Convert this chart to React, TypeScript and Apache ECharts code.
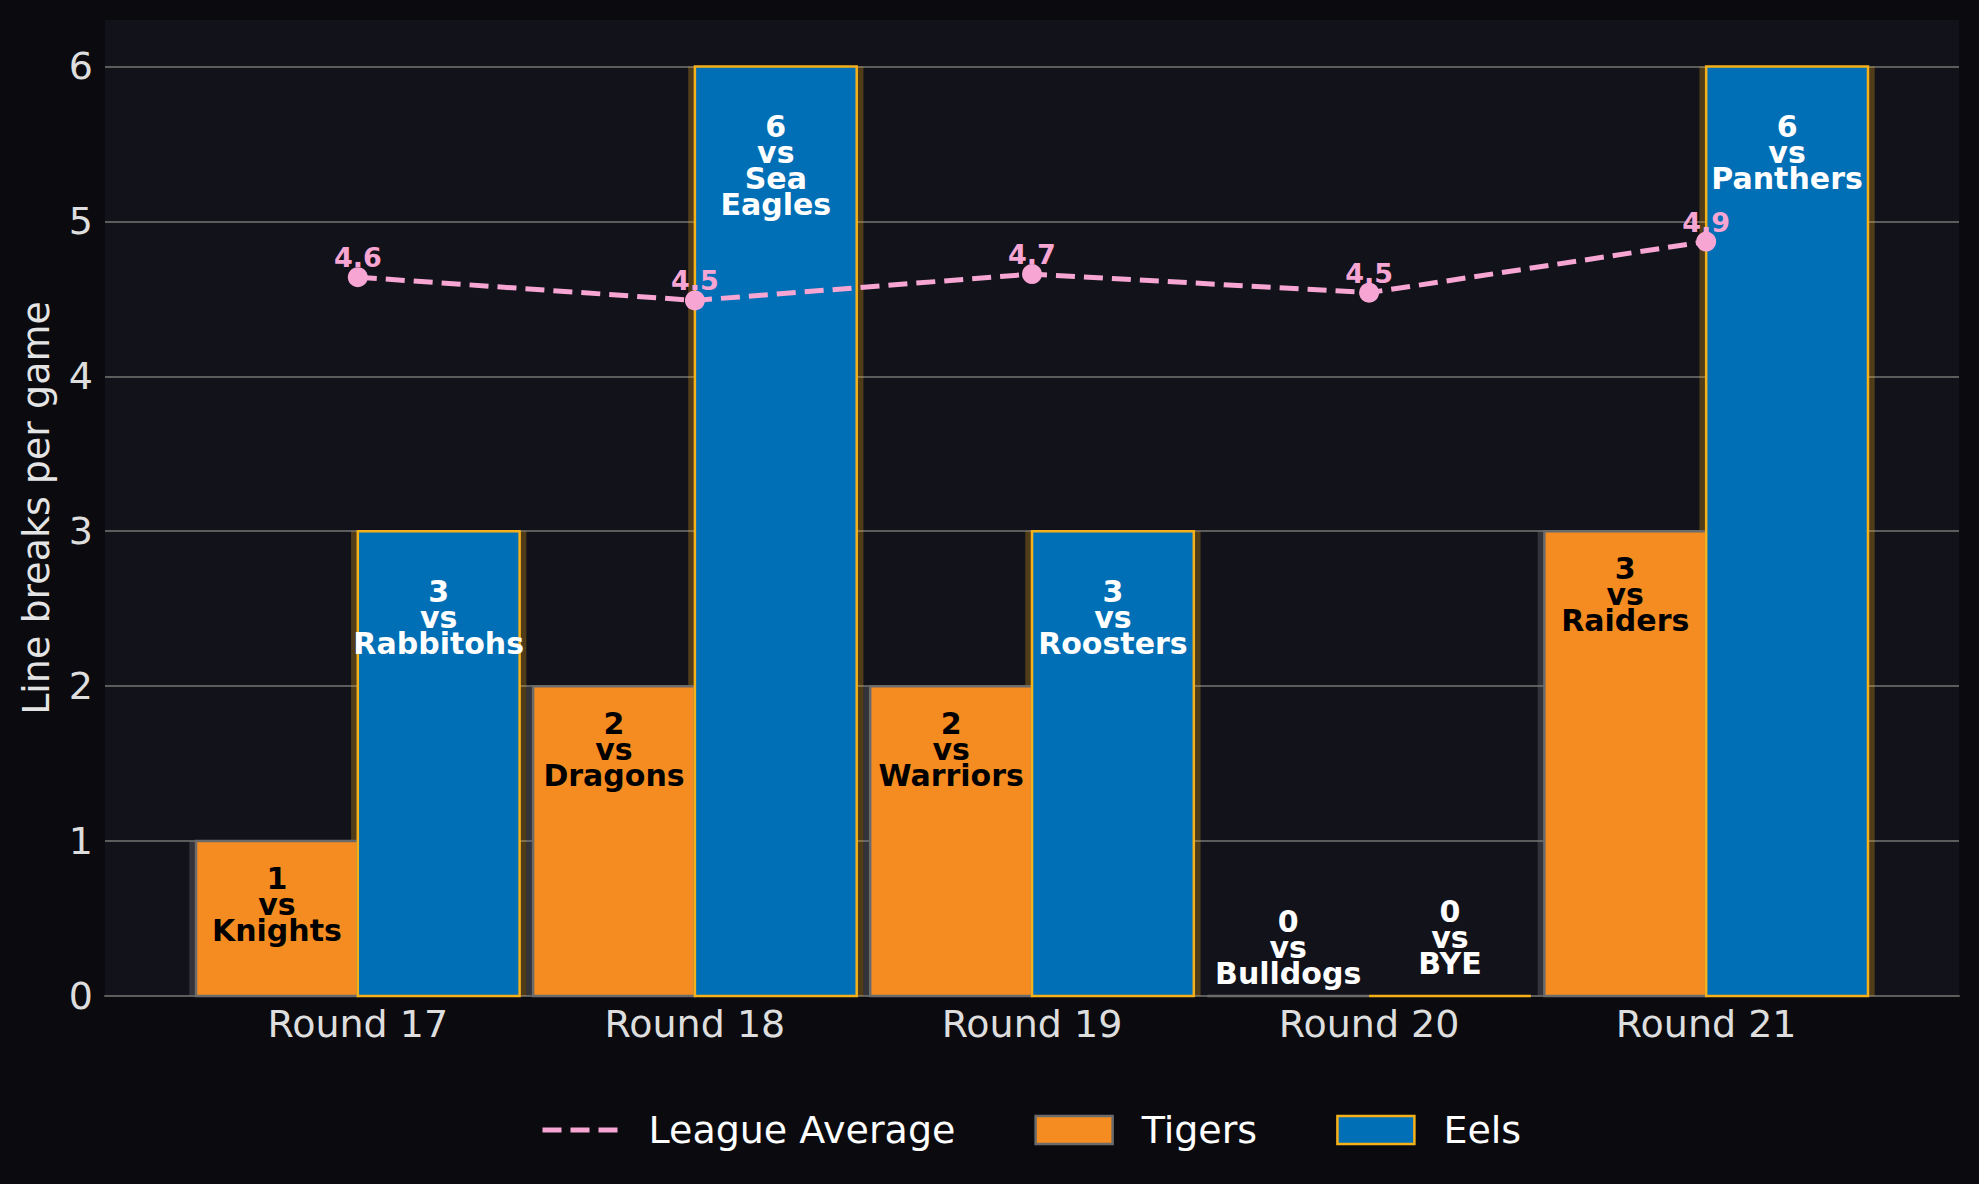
import React, { useEffect, useRef } from 'react';
import * as echarts from 'echarts';

const ROUNDS = ['Round 17', 'Round 18', 'Round 19', 'Round 20', 'Round 21'];
const TIGERS = [1, 2, 2, 0, 3];
const EELS = [3, 6, 3, 0, 6];
const TIGERS_OPP = ['Knights', 'Dragons', 'Warriors', 'Bulldogs', 'Raiders'];
const EELS_OPP = ['Rabbitohs', 'Sea Eagles', 'Roosters', 'BYE', 'Panthers'];
const LEAGUE_AVG = [4.64, 4.49, 4.66, 4.54, 4.87];
const Y_TICKS = [0, 1, 2, 3, 4, 5, 6];

const FONT = 'DejaVu Sans';
const BAR_W = 0.48;
const SHADOW_W = 0.52;
const LINE_H = 26;

const TIGER_FILL = '#f58c21';
const TIGER_EDGE = '#6b6b6b';
const EEL_FILL = '#006fb5';
const EEL_EDGE = '#f5b01a';
const PINK = '#f7a6d4';
const DASH = [19, 9];

function labelText(v: number, opp: string) {
  return `${v}\nvs\n${opp.split(' ').join('\n')}`;
}

function barRenderer(
  values: number[],
  opps: string[],
  side: number,
  fill: string,
  edge: string,
  textColor: string,
  topOffset: number,
  zeroOffset: number
) {
  return (params: any, api: any) => {
    const i = params.dataIndex;
    const x = api.value(0) as number;
    const v = values[i];
    const c = x + (side * BAR_W) / 2;
    const [left, top] = api.coord([c - BAR_W / 2, v]);
    const [right, bottom] = api.coord([c + BAR_W / 2, 0]);
    const firstLine = v > 0 ? top + topOffset : bottom - zeroOffset;
    return {
      type: 'group',
      children: [
        {
          type: 'rect',
          shape: { x: left, y: top, width: right - left, height: bottom - top },
          style: { fill, stroke: edge, lineWidth: 2.5 },
        },
        {
          type: 'text',
          z2: 20,
          style: {
            text: labelText(v, opps[i]),
            x: (left + right) / 2,
            y: firstLine - LINE_H / 2,
            align: 'center',
            verticalAlign: 'top',
            fill: v > 0 ? textColor : '#ffffff',
            fontSize: 30,
            fontWeight: 'bold',
            fontFamily: FONT,
            lineHeight: LINE_H,
          },
        },
      ],
    };
  };
}

function shadowRenderer(values: number[], side: number, color: string) {
  return (params: any, api: any) => {
    const i = params.dataIndex;
    const x = api.value(0) as number;
    const v = values[i];
    const c = x + (side * BAR_W) / 2;
    const [left, top] = api.coord([c - SHADOW_W / 2, v]);
    const [right, bottom] = api.coord([c + SHADOW_W / 2, 0]);
    return {
      type: 'rect',
      shape: { x: left, y: top, width: right - left, height: bottom - top },
      style: { fill: color },
    };
  };
}

export default function App() {
  const chartRef = useRef<HTMLDivElement>(null);

  useEffect(() => {
    if (!chartRef.current) return;
    const chart = echarts.init(chartRef.current, null, { renderer: 'svg' });

    const tigerData = TIGERS.map((v, i) => [i, v]);
    const eelData = EELS.map((v, i) => [i, v]);

    chart.setOption({
      animation: false,
      backgroundColor: '#0b0b0f',
      textStyle: { fontFamily: FONT },
      grid: {
        left: 105,
        right: 20,
        top: 20,
        bottom: 188,
        show: true,
        backgroundColor: '#12121a',
        borderWidth: 0,
      },
      legend: {
        left: 535,
        top: 1106,
        itemWidth: 77,
        itemHeight: 28,
        itemGap: 79,
        textStyle: { color: '#ffffff', fontSize: 38, fontFamily: FONT, padding: [0, 0, 0, 24] },
        data: [
          {
            name: 'League Average',
            itemStyle: { opacity: 0 },
            lineStyle: { color: PINK, width: 5, type: DASH },
          },
          {
            name: 'Tigers',
            icon: 'rect',
            itemStyle: { color: TIGER_FILL, borderColor: TIGER_EDGE, borderWidth: 2.5 },
          },
          {
            name: 'Eels',
            icon: 'rect',
            itemStyle: { color: EEL_FILL, borderColor: EEL_EDGE, borderWidth: 2.5 },
          },
        ],
      },
      xAxis: {
        type: 'value',
        min: -0.75,
        max: 4.75,
        interval: 0.25,
        axisLine: { show: true, lineStyle: { color: '#5c5c5c', width: 2 } },
        axisTick: { show: false },
        splitLine: { show: false },
        axisLabel: {
          color: '#dedede',
          fontSize: 38,
          fontFamily: FONT,
          margin: 9,
          formatter: (v: number) => {
            const k = Math.round(v);
            return Math.abs(v - k) < 1e-6 && ROUNDS[k] ? ROUNDS[k] : '';
          },
        },
      },
      yAxis: {
        type: 'value',
        min: 0,
        max: 6.3,
        interval: 1,
        name: 'Line breaks per game',
        nameLocation: 'middle',
        nameGap: 50,
        nameTextStyle: { color: '#e4e4e4', fontSize: 38, fontFamily: FONT },
        axisLine: { show: false },
        axisTick: { show: false },
        splitLine: { show: true, showMaxLine: false, lineStyle: { color: '#5c5c5c', width: 2 } },
        axisLabel: {
          color: '#dedede',
          fontSize: 38,
          fontFamily: FONT,
          margin: 12,
          showMaxLabel: false,
          formatter: (v: number) => (Y_TICKS.includes(v) ? String(v) : ''),
        },
      },
      series: [
        {
          name: 'tigers-shadow',
          type: 'custom',
          z: 1,
          silent: true,
          data: tigerData,
          encode: { x: 0, y: 1 },
          renderItem: shadowRenderer(TIGERS, -1, 'rgba(120,120,130,0.32)'),
        },
        {
          name: 'eels-shadow',
          type: 'custom',
          z: 1,
          silent: true,
          data: eelData,
          encode: { x: 0, y: 1 },
          renderItem: shadowRenderer(EELS, 1, 'rgba(242,170,20,0.28)'),
        },
        {
          name: 'Tigers',
          type: 'custom',
          z: 2,
          data: tigerData,
          encode: { x: 0, y: 1 },
          itemStyle: { color: TIGER_FILL, borderColor: TIGER_EDGE, borderWidth: 2.5 },
          renderItem: barRenderer(TIGERS, TIGERS_OPP, -1, TIGER_FILL, TIGER_EDGE, '#000000', 37, 75),
        },
        {
          name: 'Eels',
          type: 'custom',
          z: 2,
          data: eelData,
          encode: { x: 0, y: 1 },
          itemStyle: { color: EEL_FILL, borderColor: EEL_EDGE, borderWidth: 2.5 },
          renderItem: barRenderer(EELS, EELS_OPP, 1, EEL_FILL, EEL_EDGE, '#ffffff', 60, 85),
        },
        {
          name: 'League Average',
          type: 'line',
          z: 10,
          data: LEAGUE_AVG.map((v, i) => [i, v]),
          symbol: 'circle',
          symbolSize: 20,
          itemStyle: { color: PINK },
          lineStyle: { color: PINK, width: 5, type: DASH },
          label: {
            show: true,
            position: 'top',
            distance: -4,
            color: PINK,
            fontSize: 27,
            fontWeight: 'bold',
            fontFamily: FONT,
            formatter: (p: any) => p.value[1].toFixed(1),
          },
        },
      ],
    });

    return () => {
      chart.dispose();
    };
  }, []);

  return (
    <div
      ref={chartRef}
      style={{ position: 'fixed', left: 0, top: 0, width: '1979px', height: '1184px' }}
    />
  );
}
